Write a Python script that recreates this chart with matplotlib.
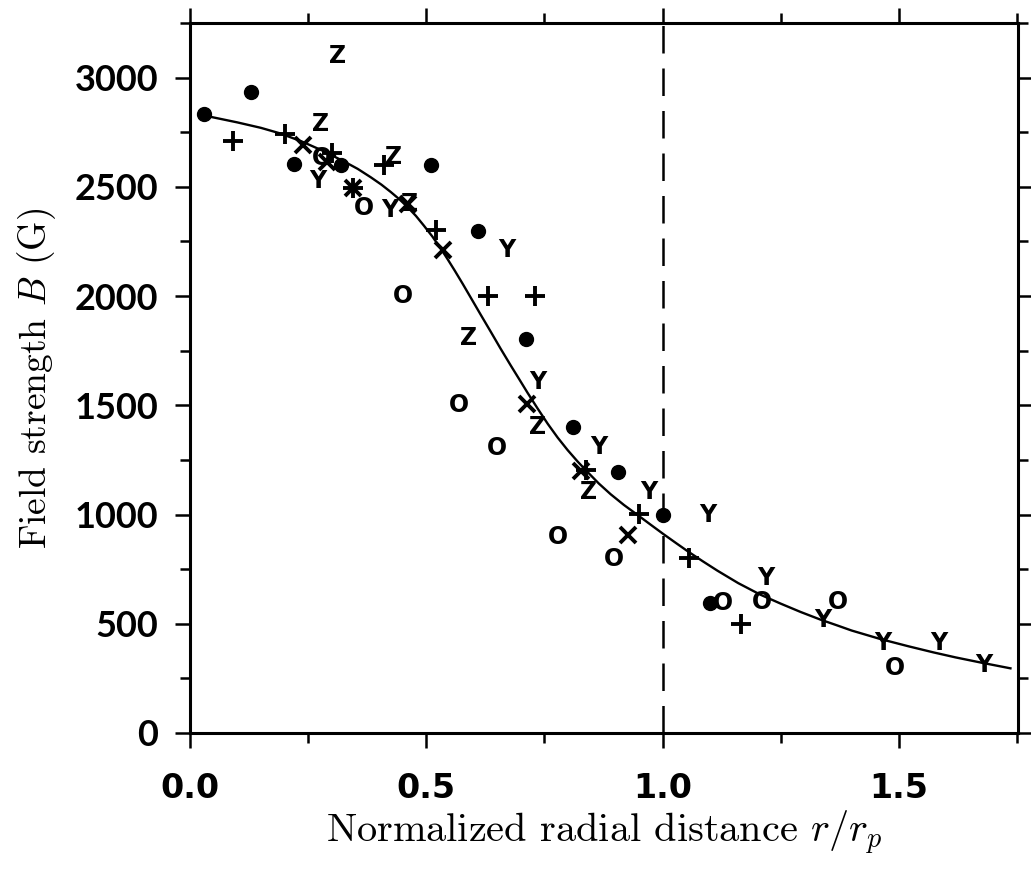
import matplotlib
matplotlib.use("Agg")
import matplotlib.pyplot as plt
from matplotlib.ticker import MultipleLocator

plt.rcParams['mathtext.fontset'] = 'cm'

# filled dots
dot_x = [0.03, 0.13, 0.22, 0.32, 0.51, 0.61, 0.71, 0.81, 0.905, 1.0, 1.10]
dot_y = [2835, 2935, 2605, 2600, 2600, 2300, 1805, 1400, 1195, 1000, 597]

# plus signs
plus_x = [0.09, 0.20, 0.30, 0.345, 0.41, 0.52, 0.63, 0.73, 0.837, 0.95, 1.055, 1.165]
plus_y = [2712, 2740, 2655, 2495, 2600, 2303, 2002, 2002, 1205, 1003, 800, 497]

# crosses
cross_x = [0.24, 0.29, 0.345, 0.462, 0.535, 0.712, 0.827, 0.926]
cross_y = [2690, 2615, 2495, 2420, 2210, 1507, 1198, 905]

# letter markers
y_x = [0.27, 0.423, 0.67, 0.735, 0.865, 0.97, 1.095, 1.218, 1.338, 1.465, 1.584, 1.68]
y_y = [2525, 2395, 2212, 1608, 1310, 1105, 1000, 710, 518, 412, 412, 311]

z_x = [0.313, 0.277, 0.43, 0.465, 0.59, 0.735, 0.843]
z_y = [3097, 2788, 2638, 2420, 1809, 1400, 1104]

o_x = [0.28, 0.369, 0.45, 0.569, 0.649, 0.778, 0.897, 1.127, 1.21, 1.37, 1.492]
o_y = [2632, 2405, 2002, 1502, 1305, 899, 797, 597, 600, 600, 298]

# fitted curve
curve_x = [0.04, 0.10, 0.15, 0.19, 0.235, 0.28, 0.326, 0.355, 0.383, 0.405,
           0.425, 0.443, 0.46, 0.478, 0.495, 0.513, 0.531, 0.545, 0.56, 0.577,
           0.594, 0.615, 0.636, 0.657, 0.679, 0.697, 0.714, 0.735, 0.757, 0.778,
           0.799, 0.82, 0.841, 0.865, 0.89, 0.918, 0.947, 0.975, 1.002, 1.028,
           1.053, 1.085, 1.116, 1.16, 1.207, 1.25, 1.292, 1.334, 1.37, 1.40,
           1.461, 1.52, 1.573, 1.62, 1.672, 1.736]
curve_y = [2822, 2795, 2770, 2745, 2709, 2666, 2616, 2582, 2543, 2510,
           2476, 2443, 2408, 2367, 2322, 2272, 2216, 2169, 2117, 2056,
           1993, 1915, 1838, 1760, 1681, 1618, 1558, 1487, 1415, 1352,
           1295, 1243, 1195, 1142, 1093, 1044, 998, 953, 910, 870,
           832, 786, 743, 686, 633, 592, 554, 519, 492, 469,
           430, 397, 369, 346, 323, 296]

fig = plt.figure(figsize=(10.31, 8.77), dpi=100)
ax = fig.add_axes([0.1843, 0.1642, 0.8031, 0.8096])

ax.plot(curve_x, curve_y, color='black', lw=1.7, zorder=2)
ax.axvline(1.0, color='black', lw=1.8, ls=(0, (11, 6)), zorder=1)

ax.plot(dot_x, dot_y, 'o', color='black', ms=10, zorder=3)
ax.plot(plus_x, plus_y, '+', color='black', ms=15, mew=2.8, zorder=3)
ax.plot(cross_x, cross_y, 'x', color='black', ms=12, mew=2.8, zorder=3)

for xs, ys, letter in [(y_x, y_y, 'Y'), (z_x, z_y, 'Z'), (o_x, o_y, 'O')]:
    for xv, yv in zip(xs, ys):
        ax.text(xv, yv, letter, ha='center', va='center', fontsize=17,
                fontweight='bold', family='DejaVu Sans', zorder=4)

ax.set_xlim(0, 1.752)
ax.set_ylim(0, 3250)

ax.xaxis.set_major_locator(MultipleLocator(0.5))
ax.xaxis.set_minor_locator(MultipleLocator(0.25))
ax.yaxis.set_major_locator(MultipleLocator(500))
ax.yaxis.set_minor_locator(MultipleLocator(250))

for s in ax.spines.values():
    s.set_linewidth(2.2)

ax.tick_params(which='both', direction='out', width=1.8, top=True, right=True,
               labeltop=False, labelright=False)
ax.tick_params(which='major', length=11)
ax.tick_params(which='minor', length=7)
ax.tick_params(axis='y', which='major', pad=12)
ax.tick_params(axis='x', which='major', pad=17)

ax.set_xticks([0, 0.5, 1.0, 1.5])
ax.set_xticklabels(['0.0', '0.5', '1.0', '1.5'])
for lab in ax.get_xticklabels():
    lab.set_family(['Liberation Sans Narrow', 'DejaVu Sans'])
    lab.set_fontweight('bold')
    lab.set_fontsize(24)
for lab in ax.get_yticklabels():
    lab.set_family(['Lato', 'DejaVu Sans'])
    lab.set_fontweight('bold')
    lab.set_fontsize(26)

ax.set_xlabel(r'Normalized radial distance $r/r_p$', family='cmr10',
              fontsize=29, labelpad=3)
ax.set_ylabel(r'Field strength $B$ (G)', family='cmr10', fontsize=27,
              labelpad=12)

fig.savefig('out.png', dpi=100)
